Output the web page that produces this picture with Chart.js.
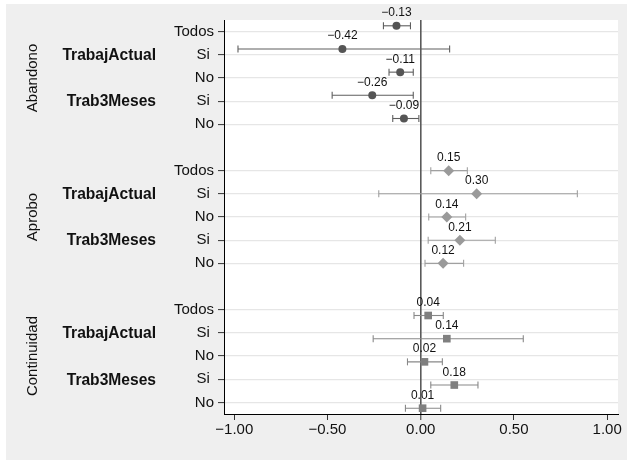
<!DOCTYPE html>
<html>
<head>
<meta charset="utf-8">
<script src="https://cdn.jsdelivr.net/npm/chart.js@4.4.1/dist/chart.umd.min.js"></script>
<style>
  html, body { margin: 0; padding: 0; background: #fff; }
  canvas { display: block; }
</style>
</head>
<body>
<canvas id="c" width="627" height="460"></canvas>
<script>
// Outcomes (one block of rows each) and the row labels inside every block
const groupNames = ['Abandono', 'Aprobo', 'Continuidad'];
const rowLabels = ['Todos', 'Si ', 'No', 'Si ', 'No'];
const subgroupNames = ['TrabajActual', 'Trab3Meses'];
const subgroupRows = [1, 3];
const xTickValues = [-1, -0.5, 0, 0.5, 1];

// Point estimates and confidence bounds, row order: Todos, TrabajActual Si/No, Trab3Meses Si/No
const abandonoEst = [-0.13, -0.42, -0.11, -0.26, -0.09];
const abandonoLo  = [-0.20, -0.98, -0.17, -0.475, -0.15];
const abandonoHi  = [-0.055, 0.155, -0.04, -0.04, -0.01];

const aproboEst = [0.15, 0.30, 0.14, 0.21, 0.12];
const aproboLo  = [0.054, -0.225, 0.043, 0.04, 0.023];
const aproboHi  = [0.25, 0.84, 0.241, 0.40, 0.23];

const continuidadEst = [0.04, 0.14, 0.02, 0.18, 0.01];
const continuidadLo  = [-0.036, -0.255, -0.071, 0.054, -0.082];
const continuidadHi  = [0.121, 0.55, 0.116, 0.307, 0.107];

const estimates = [abandonoEst, aproboEst, continuidadEst];
const lowers = [abandonoLo, aproboLo, continuidadLo];
const uppers = [abandonoHi, aproboHi, continuidadHi];

// Styling per outcome
const markerStyles = ['circle', 'rectRot', 'rect'];
const markerRadius = [4, 5.5, 5.4];
const markerColors = ['#555555', '#9a9a9a', '#7f7f7f'];
const barColors = ['#5e5e5e', '#a0a0a0', '#888888'];
const rowOffsets = [-0.25, 0, 0.25];   // vertical nudge of each outcome within its row
const blockSize = 6;                    // five rows plus one blank row between blocks

const fmt = v => (v < 0 ? '\u2212' : '') + Math.abs(v).toFixed(2);
const rowPos = (g, i) => g * blockSize + i;
const tickRows = [];
groupNames.forEach((_, g) => rowLabels.forEach((_, i) => tickRows.push(rowPos(g, i))));

Chart.defaults.font.family = "'Liberation Sans', Arial, Helvetica, sans-serif";
Chart.defaults.color = '#111';

const datasets = [];
groupNames.forEach((name, g) => {
  datasets.push({
    label: name,
    data: estimates[g].map((v, i) => ({ x: v, y: rowPos(g, i) + rowOffsets[g] })),
    showLine: false,
    pointStyle: markerStyles[g],
    pointRadius: markerRadius[g],
    pointBackgroundColor: markerColors[g],
    pointBorderColor: markerColors[g],
    pointBorderWidth: 0,
    order: 0,
    valueLabels: estimates[g]
  });
  estimates[g].forEach((v, i) => {
    const y = rowPos(g, i) + rowOffsets[g];
    datasets.push({
      label: name + ' IC ' + i,
      data: [{ x: lowers[g][i], y: y }, { x: uppers[g][i], y: y }],
      showLine: true,
      borderColor: barColors[g],
      borderWidth: 1.1,
      pointStyle: 'line',
      rotation: 90,
      pointRadius: 3.5,
      pointBorderColor: barColors[g],
      pointBorderWidth: 1.1,
      order: 1
    });
  });
});

// Grey page frame and white plotting region
const framePlugin = {
  id: 'frame',
  beforeDraw(chart) {
    const { ctx, chartArea: a, width, height } = chart;
    ctx.save();
    ctx.fillStyle = '#ffffff';
    ctx.fillRect(0, 0, width, height);
    ctx.fillStyle = '#efefef';
    ctx.fillRect(6, 4, width - 6, height - 4);
    ctx.fillStyle = '#ffffff';
    ctx.fillRect(a.left, a.top, a.right - a.left, a.bottom - a.top);
    ctx.restore();
  }
};

// Numeric labels above each estimate
const valueLabelPlugin = {
  id: 'valueLabels',
  afterDatasetsDraw(chart) {
    const { ctx } = chart;
    ctx.save();
    ctx.font = "12px 'Liberation Sans', Arial, sans-serif";
    ctx.fillStyle = '#111';
    ctx.textAlign = 'center';
    ctx.textBaseline = 'alphabetic';
    chart.data.datasets.forEach((ds, di) => {
      if (!ds.valueLabels) return;
      chart.getDatasetMeta(di).data.forEach((pt, i) => {
        ctx.fillText(fmt(ds.valueLabels[i]), pt.x, pt.y - 9.5);
      });
    });
    ctx.restore();
  }
};

// Outcome names (rotated) and subgroup names on the left
const sideLabelPlugin = {
  id: 'sideLabels',
  afterDraw(chart) {
    const { ctx } = chart;
    const y = chart.scales.y;
    ctx.save();
    ctx.fillStyle = '#111';
    groupNames.forEach((name, g) => {
      const cy = y.getPixelForValue(rowPos(g, 2));
      ctx.save();
      ctx.translate(33, cy);
      ctx.rotate(-Math.PI / 2);
      ctx.font = "15px 'Liberation Sans', Arial, sans-serif";
      ctx.textAlign = 'center';
      ctx.textBaseline = 'middle';
      ctx.fillText(name, 0, 0);
      ctx.restore();
      subgroupNames.forEach((sub, k) => {
        const sy = y.getPixelForValue(rowPos(g, subgroupRows[k]));
        ctx.font = "bold 15.6px 'Liberation Sans', Arial, sans-serif";
        ctx.textAlign = 'right';
        ctx.textBaseline = 'middle';
        ctx.fillText(sub, 156, sy + 1);
      });
    });
    ctx.restore();
  }
};

new Chart(document.getElementById('c'), {
  type: 'scatter',
  data: { datasets },
  options: {
    responsive: false,
    animation: false,
    events: [],
    layout: { padding: { top: 20, right: 9, bottom: 0, left: 0 } },
    plugins: { legend: { display: false }, tooltip: { enabled: false } },
    scales: {
      y: {
        type: 'linear',
        reverse: true,
        min: -0.5,
        max: 16.5,
        afterBuildTicks: s => { s.ticks = tickRows.map(v => ({ value: v })); },
        afterFit: s => { s.width = 224; },
        ticks: {
          callback: v => rowLabels[v % blockSize],
          font: { size: 15 },
          color: '#111',
          padding: 4,
          autoSkip: false
        },
        grid: { color: '#e6e6e6', lineWidth: 1.2, tickColor: '#333', tickLength: 6, tickWidth: 1 },
        border: { color: '#000', width: 1 }
      },
      x: {
        type: 'linear',
        min: -1.055,
        max: 1.058,
        afterBuildTicks: s => { s.ticks = xTickValues.map(v => ({ value: v })); },
        afterFit: s => { s.height = 46; },
        ticks: {
          callback: v => fmt(v),
          font: { size: 15 },
          color: '#111',
          padding: 1,
          maxRotation: 0,
          autoSkip: false
        },
        grid: {
          drawOnChartArea: true,
          color: c => (c.tick && c.tick.value === 0 ? '#5a5a5a' : 'rgba(0,0,0,0)'),
          lineWidth: c => (c.tick && c.tick.value === 0 ? 1.6 : 1),
          tickColor: '#333',
          tickLength: 6,
          tickWidth: 1
        },
        border: { color: '#000', width: 1 }
      }
    }
  },
  plugins: [framePlugin, valueLabelPlugin, sideLabelPlugin]
});
</script>
</body>
</html>
